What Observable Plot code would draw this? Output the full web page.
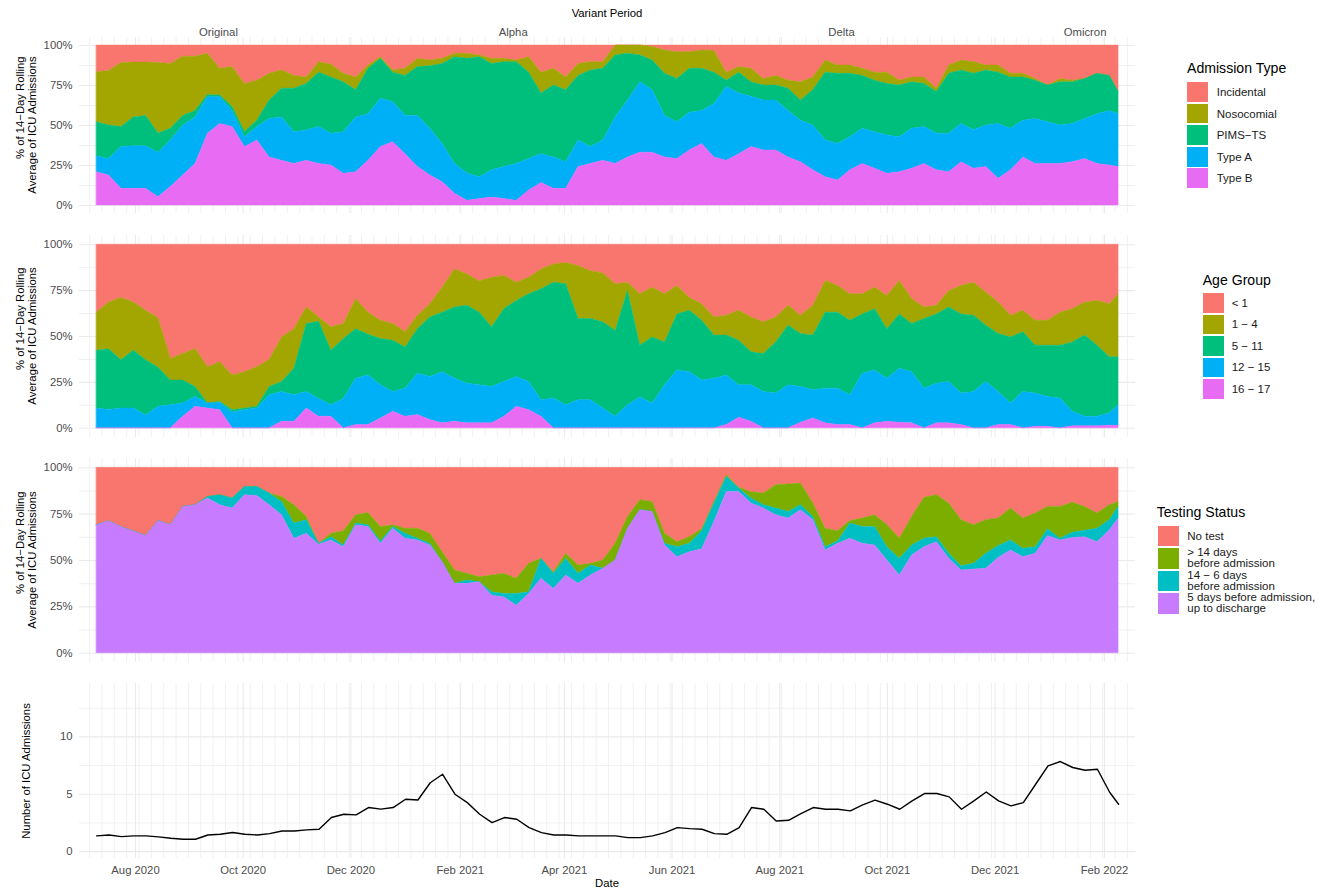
<!DOCTYPE html>
<html><head><meta charset="utf-8">
<script src="https://cdn.jsdelivr.net/npm/d3@7"></script>
<script src="https://cdn.jsdelivr.net/npm/@observablehq/plot@0.6"></script>
<style>
html,body{margin:0;padding:0;background:#fff;}
#root{position:relative;width:1319px;height:889px;overflow:hidden;font-family:"Liberation Sans",Arial,Helvetica,sans-serif;}
.t{position:absolute;white-space:pre;}
</style></head>
<body><div id="root"></div>
<script>
// ---------- data (weekly samples) ----------
const dates = ["2020-07-10","2020-07-17","2020-07-24","2020-07-31","2020-08-07","2020-08-14","2020-08-21","2020-08-28","2020-09-04","2020-09-11",
"2020-09-18","2020-09-25","2020-10-02","2020-10-09","2020-10-16","2020-10-23","2020-10-30","2020-11-06","2020-11-13","2020-11-20",
"2020-11-27","2020-12-04","2020-12-11","2020-12-18","2020-12-25","2021-01-01","2021-01-08","2021-01-15","2021-01-22","2021-01-29",
"2021-02-05","2021-02-12","2021-02-19","2021-02-26","2021-03-05","2021-03-12","2021-03-19","2021-03-26","2021-04-02","2021-04-09",
"2021-04-16","2021-04-23","2021-04-30","2021-05-07","2021-05-14","2021-05-21","2021-05-28","2021-06-04","2021-06-11","2021-06-18",
"2021-06-25","2021-07-02","2021-07-09","2021-07-16","2021-07-23","2021-07-30","2021-08-06","2021-08-13","2021-08-20","2021-08-27",
"2021-09-03","2021-09-10","2021-09-17","2021-09-24","2021-10-01","2021-10-08","2021-10-15","2021-10-22","2021-10-29","2021-11-05",
"2021-11-12","2021-11-19","2021-11-26","2021-12-03","2021-12-10","2021-12-17","2021-12-24","2021-12-31","2022-01-07","2022-01-14",
"2022-01-21","2022-01-28","2022-02-04","2022-02-09"];

const xTickDates = ["2020-08-01","2020-10-01","2020-12-01","2021-02-01","2021-04-01","2021-06-01","2021-08-01","2021-10-01","2021-12-01","2022-02-01"];

const variantNames = ["Original","Alpha","Delta","Omicron"];
const variantMid = ["2020-09-17","2021-03-03","2021-09-05","2022-01-21"];

// Panel 1: admission type (% share)
const admissionTypes = ["Incidental","Nosocomial","PIMS\u2212TS","Type A","Type B"];
const admissionColors = ["#F8766D","#A3A500","#00BF7D","#00B0F6","#E76BF3"];
const incidental = [16.7,16.0,11.0,10.6,10.6,11.0,11.5,7.0,7.0,5.2,
14.6,13.5,24.0,22.0,17.7,15.6,19.0,20.0,10.4,12.0,
17.7,20.0,12.5,7.3,15.6,14.6,8.3,9.4,8.3,5.2,
5.2,6.2,8.3,8.3,9.4,7.3,17.0,14.6,20.0,11.5,
10.4,10.4,0,0,0,1.0,3.1,4.2,4.2,3.1,
3.5,17.0,13.5,14.6,21.0,19.0,22.0,23.0,20.0,9.4,
12.5,12.5,14.6,17.0,17.0,22.0,20.0,20.0,27.0,12.5,
9.4,10.4,12.5,12.5,17.7,17.7,21.0,25.0,21.0,22.0,
21.0,17.7,19.0,29.0];
const nosocomial = [31.2,34.0,40.0,34.4,33.4,44.0,40.5,37.0,34.0,25.8,
16.7,25.0,30.0,25.0,16.7,11.4,8.0,4.0,6.6,8.0,
5.3,8.0,2.1,1.0,1.4,4.4,5.2,3.6,3.2,2.1,
3.1,1.1,3.2,2.1,1.0,9.7,13.0,10.4,8.0,7.5,
5.2,4.2,6.2,5.2,6.2,8.4,14.6,16.8,10.4,11.5,
13.5,5.0,3.5,8.4,4.0,6.0,5.0,11.4,8.0,7.6,
5.2,5.2,4.4,5.0,7.0,3.0,3.0,4.0,2.0,5.2,
6.2,7.3,3.1,4.5,2.3,2.3,1.0,0,2.0,1.0,
0,0,0,0];
const pimsTs = [21.3,21.0,12.5,18.0,19.0,12.0,7.4,6.0,4.0,1.3,
1.0,2.5,3.3,4.0,11.6,18.0,27.2,29.1,34.0,35.2,
31.2,17.0,28.4,25.0,18.4,25.0,30.5,39.0,50.0,66.7,
71.7,75.0,66.5,65.6,63.6,54.0,38.0,45.0,45.0,40.4,
47.9,44.8,38.8,29.2,16.8,18.6,26.3,27.0,27.4,26.4,
19.5,4.0,13.0,9.0,9.4,9.4,14.0,12.6,22.0,42.4,
43.8,39.6,33.0,32.2,32.2,32.3,29.0,27.0,26.2,37.5,
33.4,35.3,34.4,32.0,32.0,27.0,24.0,23.0,27.0,26.0,
25.0,25.3,22.0,14.0];
const typeA = [10.0,10.2,26.1,26.6,26.6,27.8,29.1,31.2,29.0,22.9,
16.7,10.0,6.2,8.4,24.0,27.0,19.8,18.9,23.0,19.8,
26.0,34.2,29.0,30.2,25.0,24.0,32.0,29.2,23.9,18.7,
17.0,13.7,17.0,20.0,23.0,19.6,18.0,19.6,16.6,16.6,
10.5,12.6,29.0,35.6,44.0,39.0,26.0,23.0,23.6,20.5,
33.5,46.0,38.0,31.5,31.2,31.2,29.0,26.0,28.0,22.9,
22.9,20.7,22.0,22.8,24.0,21.9,25.0,23.0,22.8,24.0,
24.0,24.0,26.0,34.3,26.0,23.0,28.0,26.0,24.0,24.0,
25.0,31.0,34.0,33.0];
const typeB = [20.8,18.8,10.4,10.4,10.4,5.2,11.5,18.8,26.0,44.8,
51.0,49.0,36.5,40.6,30.0,28.0,26.0,28.0,26.0,25.0,
19.8,20.8,28.0,36.5,39.6,32.0,24.0,18.8,14.6,7.3,
3.0,4.0,5.0,4.0,3.0,9.4,14.0,10.4,10.4,24.0,
26.0,28.0,26.0,30.0,33.0,33.0,30.0,29.0,34.4,38.5,
30.0,28.0,32.0,36.5,34.4,34.4,30.0,27.0,22.0,17.7,
15.6,22.0,26.0,23.0,19.8,20.8,23.0,26.0,22.0,20.8,
27.0,23.0,24.0,16.7,22.0,30.0,26.0,26.0,26.0,27.0,
29.0,26.0,25.0,24.0];

// Panel 2: age group (% share)
const ageGroups = ["< 1","1 \u2212 4","5 \u2212 11","12 \u2212 15","16 \u2212 17"];
const ageColors = ["#F8766D","#A3A500","#00BF7D","#00B0F6","#E76BF3"];
const ageUnder1 = [37.0,31.5,29.0,31.5,36.0,40.0,62.2,59.5,56.8,66.7,
64.0,71.2,69.4,66.7,62.7,50.5,46.0,34.2,39.6,45.0,
43.2,29.7,37.0,41.4,43.2,47.7,38.7,32.4,23.4,13.5,
16.2,20.0,18.0,17.0,20.7,18.0,13.5,10.8,10.0,11.7,
14.4,15.7,21.6,20.7,27.0,23.4,27.0,22.5,29.0,32.4,
39.6,38.7,36.0,39.6,42.3,39.6,33.3,38.7,33.3,19.8,
22.5,27.0,27.0,23.4,28.0,19.8,29.7,34.2,33.3,25.2,
22.5,20.7,26.1,31.5,38.7,36.0,41.4,41.4,37.0,35.1,
31.5,30.6,32.4,27.0];
const age1to4 = [20.7,25.5,34.0,26.2,27.0,27.0,11.8,14.5,20.7,19.8,
21.6,18.9,19.8,21.6,14.8,24.3,21.6,9.0,2.4,12.7,
8.2,16.3,12.0,10.0,9.1,8.3,7.3,7.2,13.6,20.7,
17.1,17.0,27.0,18.1,9.9,9.0,10.8,9.9,11.6,28.8,
26.1,26.6,25.4,4.5,28.0,27.1,26.2,15.5,7.0,9.0,
9.9,10.8,16.3,19.0,17.2,13.6,10.8,9.9,16.2,17.2,
14.5,14.4,11.0,11.7,18.0,18.2,13.5,6.3,4.7,9.0,
15.5,18.0,18.0,17.1,11.8,11.7,13.6,13.6,18.0,18.1,
18.0,24.4,28.9,34.3];
const age5to11 = [31.5,33.0,26.2,31.5,30.0,21.3,13.4,12.5,5.4,0,
0.5,1.3,0.9,0.9,4.5,5.4,14.4,37.0,42.0,29.7,
32.6,27.0,22.2,25.2,27.9,22.4,24.3,32.4,32.4,38.8,
42.4,39.6,32.5,39.7,41.5,47.8,60.4,63.1,65.8,44.2,
44.2,46.9,46.7,62.2,28.2,36.0,23.4,30.5,33.4,32.6,
23.5,21.7,24.3,18.0,20.7,27.9,32.5,28.9,29.8,41.4,
41.4,40.6,32.3,33.4,27.0,29.6,26.2,37.9,37.7,40.6,
43.1,41.5,30.7,31.6,36.0,32.5,26.1,27.9,28.8,37.8,
44.2,38.7,30.6,26.1];
const age12to15 = [10.8,10.0,10.8,10.8,7.0,11.7,12.6,7.2,5.4,2.7,
4.0,8.6,9.9,10.8,18.0,16.2,14.4,9.0,9.7,6.3,
16.0,25.2,27.0,18.0,10.8,15.3,22.5,23.5,27.9,23.4,
21.6,20.7,19.8,18.9,16.2,15.3,9.0,16.2,12.6,15.3,
15.3,10.8,6.3,12.6,16.8,13.5,23.4,31.5,30.6,26.0,
27.0,27.0,17.6,19.8,19.8,18.9,23.4,19.5,15.3,18.9,
19.8,16.2,29.7,28.8,23.4,29.4,27.9,21.6,21.6,22.5,
17.1,19.8,25.2,18.0,11.7,19.8,18.0,16.2,16.2,7.9,
5.2,5.2,6.7,11.2];
const age16to17 = [0,0,0,0,0,0,0,6.3,11.7,10.8,
9.9,0,0,0,0,3.6,3.6,10.8,6.3,6.3,
0,1.8,1.8,5.4,9.0,6.3,7.2,4.5,2.7,3.6,
2.7,2.7,2.7,6.3,11.7,9.9,6.3,0,0,0,
0,0,0,0,0,0,0,0,0,0,
0,1.8,5.8,3.6,0,0,0,3.0,5.4,2.7,
1.8,1.8,0,2.7,3.6,3.0,2.7,0,2.7,2.7,
1.8,0,0,1.8,1.8,0,0.9,0.9,0,1.1,
1.1,1.1,1.4,1.4];

// Panel 3: testing status (% share)
const testingStatus = ["No test","> 14 days\nbefore admission","14 \u2212 6 days\nbefore admission","5 days before admission,\nup to discharge"];
const testingColors = ["#F8766D","#7CAE00","#00BFC4","#C77CFF"];
const noTest = [31.0,28.9,32.0,34.3,36.8,28.7,31.0,21.1,20.2,15.7,
14.8,16.6,10.3,10.3,13.9,15.7,20.2,26.5,41.0,35.6,
34.2,25.6,24.4,32.0,31.0,32.9,32.9,35.6,45.5,55.4,
57.2,59.0,58.1,57.2,59.9,51.8,49.1,56.3,46.4,52.7,
51.8,50.0,41.0,26.5,17.5,18.4,35.6,40.1,37.4,33.2,
18.4,4.0,10.8,13.2,13.9,9.4,9.0,8.5,19.3,32.9,
34.2,28.7,27.4,25.6,31.0,38.3,26.5,16.2,14.8,19.3,
28.3,31.0,28.3,27.4,22.0,27.4,24.7,21.1,21.1,18.8,
21.1,24.7,20.2,18.4];
const over14Days = [0,0,0,0,0,0,0,0,0,0,
0,0,0,0,0,2.7,9.9,1.8,0,1.8,
7.7,4.5,6.6,7.7,1.0,2.7,5.4,5.4,5.4,7.2,
3.6,2.7,9.0,10.9,8.2,15.3,0,0.9,2.7,4.5,
0.9,4.5,9.0,6.4,5.4,5.4,5.4,2.7,3.6,1.0,
0.9,0.9,0.4,3.4,6.3,12.6,14.8,11.7,7.2,9.9,
5.5,1.3,4.6,6.4,11.8,10.8,15.4,22.1,22.6,27.1,
24.8,20.8,18.1,14.8,17.2,16.3,18.1,12.1,17.2,16.2,
12.8,8.2,8.1,2.7];
const days14to6 = [0,0,0,0,0,0,0,0,0,0.9,
5.4,5.4,4.5,4.9,6.3,7.2,8.2,7.3,0.5,1.8,
0.9,0.9,1.0,1.3,0.9,2.7,0.9,0.9,0,0,
1.8,0,1.9,1.8,6.3,1.0,10.8,8.1,9.0,5.4,
5.4,0,0,0,0,0,0.9,5.4,4.5,9.8,
9.9,8.1,1.8,2.7,1.8,3.6,3.6,2.7,1.8,1.8,
1.3,8.3,9.0,9.9,7.2,9.0,5.4,4.5,2.7,2.7,
2.3,3.1,8.1,6.5,5.4,4.5,3.6,3.6,0.9,2.9,
3.5,7.2,5.5,6.3];
const days5ToDischarge = [69.0,71.1,68.0,65.7,63.2,71.3,69.0,78.9,79.8,83.4,
79.8,78.0,85.2,84.8,79.8,74.4,61.7,64.4,58.5,60.8,
57.2,69.0,68.0,59.0,67.1,61.7,60.8,58.1,49.1,37.4,
37.4,38.3,31.0,30.1,25.6,31.9,40.1,34.7,41.9,37.4,
41.9,45.5,50.0,67.1,77.1,76.2,58.1,51.8,54.5,56.0,
70.8,87.0,87.0,80.7,78.0,74.4,72.6,77.1,71.7,55.4,
59.0,61.7,59.0,58.1,50.0,41.9,52.7,57.2,59.9,50.9,
44.6,45.1,45.5,51.3,55.4,51.8,53.6,63.2,60.8,62.1,
62.6,59.9,66.2,72.6];

// Panel 4: number of ICU admissions (14-day rolling average)
const icuAdmissions = [1.37,1.45,1.31,1.37,1.37,1.28,1.16,1.08,1.08,1.45,
1.51,1.66,1.51,1.45,1.57,1.8,1.8,1.89,1.95,2.97,
3.26,3.2,3.84,3.7,3.84,4.56,4.5,6.0,6.74,5.0,
4.27,3.26,2.53,2.97,2.82,2.09,1.66,1.45,1.45,1.37,
1.37,1.37,1.37,1.22,1.22,1.37,1.66,2.09,2.0,1.95,
1.57,1.51,2.09,3.84,3.69,2.67,2.73,3.31,3.84,3.69,
3.69,3.55,4.07,4.48,4.13,3.69,4.42,5.06,5.06,4.77,
3.69,4.42,5.2,4.42,3.98,4.27,5.87,7.47,7.85,7.33,
7.09,7.18,5.15,4.13];

// ---------- build ----------
const FONT = '"Liberation Sans", Arial, Helvetica, sans-serif';
const W = 1319;
const root = document.getElementById("root");
const parseDate = d3.utcParse("%Y-%m-%d");
const D = dates.map(parseDate);
const xDomain = [new Date(Date.UTC(2020,5,30,6,30)), new Date(Date.UTC(2022,1,18,13,30))];
const minorX = d3.utcMonday.range(xDomain[0], xDomain[1]);
const majorX = xTickDates.map(parseDate);
const GRID = "#EBEBEB";
const pctFmt = d => Math.round(d * 100) + "%";

function longRows(names, series) {
  return names.flatMap((n, j) => series[j].map((v, i) => ({date: D[i], cat: n, value: v})));
}

function panel({height, marginTop, marginBottom, yDomain, yMajor, yMinor, yFormat, color, body, xAxis}) {
  const marks = [
    Plot.ruleX(minorX, {stroke: GRID, strokeWidth: 0.7}),
    Plot.ruleX(majorX, {stroke: GRID, strokeWidth: 1.1}),
    Plot.ruleY(yMinor, {stroke: GRID, strokeWidth: 0.7}),
    Plot.ruleY(yMajor, {stroke: GRID, strokeWidth: 1.1}),
    ...body,
    Plot.axisY({ticks: yMajor, tickSize: 0, tickPadding: 7, tickFormat: yFormat, label: null})
  ];
  if (xAxis) marks.push(Plot.axisX({ticks: majorX, tickSize: 0, tickPadding: 7, tickFormat: d3.utcFormat("%b %Y"), label: null}));
  return Plot.plot({
    width: W, height, marginLeft: 79, marginRight: 184, marginTop, marginBottom,
    style: {fontFamily: FONT, fontSize: "11.3px", color: "#4D4D4D", background: "transparent"},
    x: xAxis ? {type: "utc", domain: xDomain} : {type: "utc", domain: xDomain, axis: null},
    y: {domain: yDomain},
    color,
    marks
  });
}

function stacked(names, colors, series) {
  const rows = longRows(names, series);
  return Plot.areaY(rows, {x: "date", y: "value", z: "cat", fill: "cat", stroke: "cat", strokeWidth: 0.4,
    order: [...names].reverse(), offset: "normalize", curve: "linear"});
}

function place(svg, top) {
  svg.style.position = "absolute";
  svg.style.left = "0px";
  svg.style.top = top + "px";
  root.appendChild(svg);
}

const pctMajor = [0, 0.25, 0.5, 0.75, 1];
const pctMinor = [0.125, 0.375, 0.625, 0.875];

// Panel 1
const variantRows = variantNames.map((n, i) => ({name: n, date: parseDate(variantMid[i])}));
place(panel({
  height: 213, marginTop: 37, marginBottom: 0,
  yDomain: [-0.05, 1.05], yMajor: pctMajor, yMinor: pctMinor, yFormat: pctFmt,
  color: {domain: admissionTypes, range: admissionColors},
  body: [
    stacked(admissionTypes, admissionColors, [incidental, nosocomial, pimsTs, typeA, typeB]),
    Plot.text(variantRows, {x: "date", text: "name", frameAnchor: "top", dy: -10, fill: "#4D4D4D", fontSize: 11.3})
  ]
}), 0);

// Panel 2
place(panel({
  height: 224, marginTop: 21, marginBottom: 1,
  yDomain: [-0.05, 1.05], yMajor: pctMajor, yMinor: pctMinor, yFormat: pctFmt,
  color: {domain: ageGroups, range: ageColors},
  body: [stacked(ageGroups, ageColors, [ageUnder1, age1to4, age5to11, age12to15, age16to17])]
}), 214);

// Panel 3
place(panel({
  height: 224, marginTop: 20, marginBottom: 0,
  yDomain: [-0.05, 1.05], yMajor: pctMajor, yMinor: pctMinor, yFormat: pctFmt,
  color: {domain: testingStatus, range: testingColors},
  body: [stacked(testingStatus, testingColors, [noTest, over14Days, days14to6, days5ToDischarge])]
}), 438);

// Panel 4
const lineRows = icuAdmissions.map((v, i) => ({date: D[i], value: v}));
place(panel({
  height: 227, marginTop: 21, marginBottom: 31,
  yDomain: [-0.6, 14.65], yMajor: [0, 5, 10], yMinor: [2.5, 7.5, 12.5], yFormat: d => String(d),
  body: [Plot.lineY(lineRows, {x: "date", y: "value", stroke: "#000", strokeWidth: 1.4, strokeLinejoin: "round"})],
  xAxis: true
}), 662);

// ---------- HTML text ----------
function text(str, {cx, cy, left, size = 11.3, color = "#000", rotate = false, align = "left", lh = null}) {
  const el = document.createElement("div");
  el.className = "t";
  el.textContent = str;
  el.style.fontSize = size + "px";
  el.style.color = color;
  el.style.textAlign = align;
  el.style.lineHeight = (lh ? lh : size * 1.15) + "px";
  if (left != null) {
    el.style.left = left + "px";
    el.style.top = cy + "px";
    el.style.transform = "translateY(-50%)";
  } else {
    el.style.left = cx + "px";
    el.style.top = cy + "px";
    el.style.transform = "translate(-50%,-50%)" + (rotate ? " rotate(-90deg)" : "");
  }
  root.appendChild(el);
  return el;
}

text("Variant Period", {cx: 607, cy: 13.3});
text("Date", {cx: 607, cy: 882.7});
const yTitle = "% of 14\u2212Day Rolling\nAverage of ICU Admissions";
text(yTitle, {cx: 26, cy: 125, rotate: true, align: "right", lh: 12});
text(yTitle, {cx: 26, cy: 336, rotate: true, align: "right", lh: 12});
text(yTitle, {cx: 26, cy: 560, rotate: true, align: "right", lh: 12});
text("Number of ICU Admissions", {cx: 26, cy: 770.5, rotate: true});

function legend(title, names, colors, o) {
  text(title, {left: o.titleLeft, cy: o.titleCY, size: 14.1});
  names.forEach((n, i) => {
    const top = o.keyTop + i * o.step;
    const k = document.createElement("div");
    k.style.cssText = `position:absolute;left:${o.keyLeft}px;top:${top}px;width:${o.keyW}px;height:${o.keyH}px;background:${colors[i]}`;
    root.appendChild(k);
    text(n, {left: o.labelLeft, cy: top + o.keyH / 2, size: 11.5, lh: 10.7, color: "#1A1A1A"});
  });
}
legend("Admission Type", admissionTypes, admissionColors,
  {titleLeft: 1187, titleCY: 68.3, keyLeft: 1187, keyTop: 82, step: 21.6, keyW: 21, keyH: 19.8, labelLeft: 1216.7});
legend("Age Group", ageGroups, ageColors,
  {titleLeft: 1202.7, titleCY: 280, keyLeft: 1203.3, keyTop: 293, step: 21.5, keyW: 21, keyH: 19.8, labelLeft: 1231.7});
legend("Testing Status", testingStatus, testingColors,
  {titleLeft: 1156.7, titleCY: 512.3, keyLeft: 1158, keyTop: 525.7, step: 22.45, keyW: 21, keyH: 20.5, labelLeft: 1187.3});
</script>
</body></html>
